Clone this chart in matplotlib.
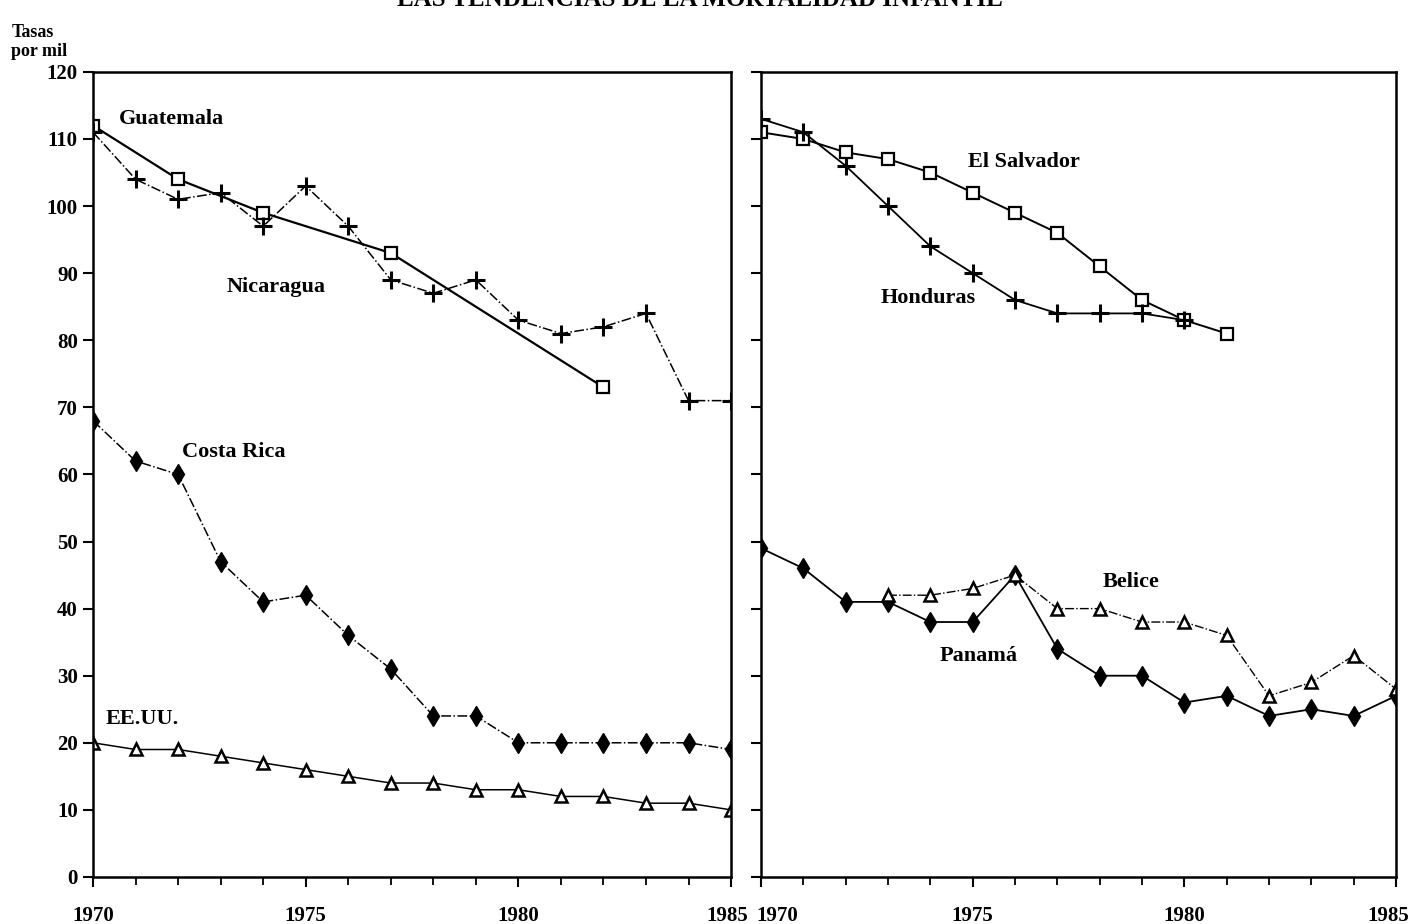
import numpy as np
import matplotlib
matplotlib.use("Agg")
import matplotlib.pyplot as plt
from matplotlib.ticker import MultipleLocator
import matplotlib.transforms as mtransforms

plt.rcParams['font.family'] = ['Liberation Serif', 'DejaVu Serif']
plt.rcParams['font.weight'] = 'bold'

# --- data (tasas por mil) ---------------------------------------------------
guat_yr = [1970, 1972, 1974, 1977, 1982]
guat = [112, 104, 99, 93, 73]

nic_yr = list(range(1970, 1986))
nic = [111, 104, 101, 102, 97, 103, 97, 89, 87, 89, 83, 81, 82, 84, 71, 71]

cr_yr = list(range(1970, 1986))
cr = [68, 62, 60, 47, 41, 42, 36, 31, 24, 24, 20, 20, 20, 20, 20, 19]

usa_yr = list(range(1970, 1986))
usa = [20, 19, 19, 18, 17, 16, 15, 14, 14, 13, 13, 12, 12, 11, 11, 10]

sal_yr = list(range(1970, 1982))
sal = [111, 110, 108, 107, 105, 102, 99, 96, 91, 86, 83, 81]

hon_yr = list(range(1970, 1981))
hon = [113, 111, 106, 100, 94, 90, 86, 84, 84, 84, 83]

pan_yr = list(range(1970, 1986))
pan = [49, 46, 41, 41, 38, 38, 45, 34, 30, 30, 26, 27, 24, 25, 24, 27]

bel_yr = list(range(1973, 1986))
bel = [42, 42, 43, 45, 40, 40, 38, 38, 36, 27, 29, 33, 28]

fig = plt.figure(figsize=(14.14, 9.24), dpi=100)
axL = fig.add_axes([0.0658, 0.0509, 0.4512, 0.8713])
axR = fig.add_axes([0.5382, 0.0509, 0.4491, 0.8713])

mk = dict(color='black', markersize=9, markeredgewidth=1.6)

# left panel
axL.plot(guat_yr, guat, '-', lw=1.6, marker='s', mfc='white', **mk)
axL.plot(nic_yr, nic, '-.', lw=1.1, marker='+', markersize=13, color='black', markeredgewidth=2.2)
axL.plot(cr_yr, cr, '-.', lw=1.1, marker='d', color='black', markersize=10)
axL.plot(usa_yr, usa, '-', lw=1.1, marker='^', mfc='white', color='black', markersize=9, markeredgewidth=1.8)

fs = 16
axL.text(1970.6, 113, "Guatemala", fontsize=fs, ha='left', va='center')
axL.text(1974.3, 88, "Nicaragua", fontsize=fs, ha='center', va='center')
axL.text(1973.3, 63.3, "Costa Rica", fontsize=fs, ha='center', va='center')
axL.text(1970.3, 23.5, "EE.UU.", fontsize=fs, ha='left', va='center')

# right panel
axR.plot(sal_yr, sal, '-', lw=1.4, marker='s', mfc='white', **mk)
axR.plot(hon_yr, hon, '-', lw=1.3, marker='+', markersize=13, color='black', markeredgewidth=2.2)
axR.plot(pan_yr, pan, '-', lw=1.3, marker='d', color='black', markersize=10)
axR.plot(bel_yr, bel, '-.', lw=1.0, marker='^', mfc='white', color='black', markersize=9, markeredgewidth=1.8)

axR.text(1974.9, 106.6, "El Salvador", fontsize=fs, ha='left', va='center')
axR.text(1973.95, 86.3, "Honduras", fontsize=fs, ha='center', va='center')
axR.text(1978.75, 44, "Belice", fontsize=fs, ha='center', va='center')
axR.text(1975.15, 33, "Panamá", fontsize=fs, ha='center', va='center')

for ax in (axL, axR):
    ax.set_xlim(1970, 1985)
    ax.set_ylim(0, 120)
    ax.set_xticks([1970, 1975, 1980, 1985])
    ax.xaxis.set_minor_locator(MultipleLocator(1))
    ax.yaxis.set_major_locator(MultipleLocator(10))
    ax.tick_params(axis='both', which='major', direction='out', length=7, width=1.5,
                   labelsize=15)
    ax.tick_params(axis='x', which='major', pad=14)
    ax.tick_params(axis='x', which='minor', direction='out', length=6, width=1.3)
    for s in ax.spines.values():
        s.set_linewidth(1.8)

axR.tick_params(axis='y', labelleft=False)
axL.tick_params(axis='y', pad=4)

# nudge the touching year labels apart at the panel gap
fig.canvas.draw()
axR.get_xticklabels()[0].set_transform(
    axR.get_xticklabels()[0].get_transform() + mtransforms.ScaledTranslation(0.16, 0, fig.dpi_scale_trans))
axL.get_xticklabels()[-1].set_transform(
    axL.get_xticklabels()[-1].get_transform() + mtransforms.ScaledTranslation(-0.04, 0, fig.dpi_scale_trans))
axR.get_xticklabels()[-1].set_transform(
    axR.get_xticklabels()[-1].get_transform() + mtransforms.ScaledTranslation(-0.08, 0, fig.dpi_scale_trans))

fig.text(0.495, 1.0, "LAS TENDENCIAS DE LA MORTALIDAD INFANTIL", fontsize=18,
         ha='center', va='center')
fig.text(0.008, 0.965, "Tasas", fontsize=13, ha='left', va='center')
fig.text(0.008, 0.944, "por mil", fontsize=13, ha='left', va='center')

fig.savefig("out.png", dpi=100)
